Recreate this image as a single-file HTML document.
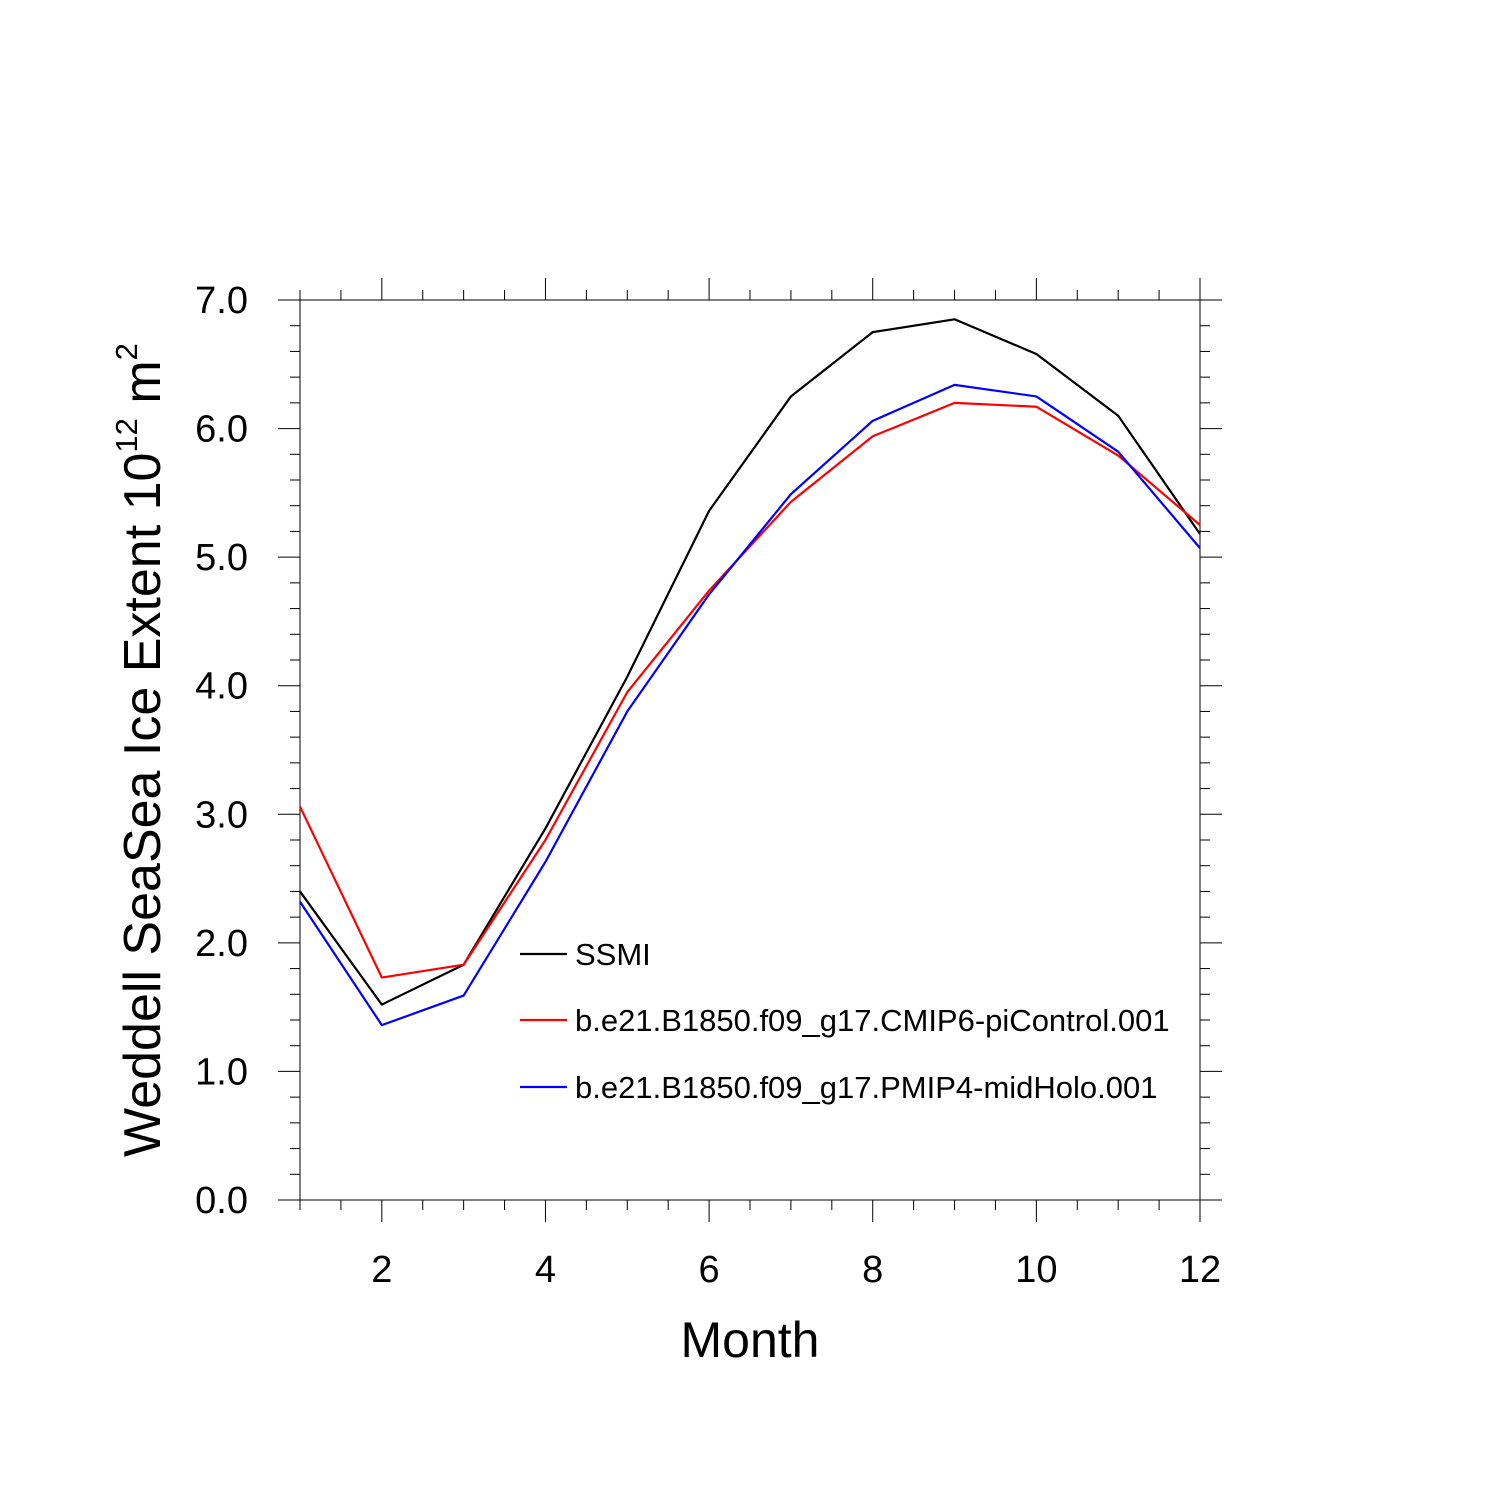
<!DOCTYPE html>
<html><head><meta charset="utf-8"><style>
html,body{margin:0;padding:0;background:#fff;}
svg{display:block;font-family:"Liberation Sans",Arial,sans-serif;}
</style></head><body>
<svg id="chart" width="1500" height="1500" viewBox="0 0 1500 1500" xmlns="http://www.w3.org/2000/svg">
<rect width="1500" height="1500" fill="#fff"/>
<g id="axes"></g>
<g id="series"></g>
<text x="750" y="1357" font-size="50" text-anchor="middle">Month</text>
<text transform="translate(160,750) rotate(-90)" font-size="52" text-anchor="middle">Weddell SeaSea Ice Extent 10<tspan font-size="31" dy="-23">12</tspan><tspan dy="23"> m</tspan><tspan font-size="31" dy="-23">2</tspan></text>
<g id="legend"></g>
</svg>
<script>
const months=[1,2,3,4,5,6,7,8,9,10,11,12];
const ssmi=[2.40,1.52,1.83,2.89,4.07,5.36,6.25,6.75,6.85,6.58,6.10,5.18];
const piControl=[3.06,1.73,1.83,2.80,3.95,4.74,5.43,5.94,6.20,6.17,5.79,5.25];
const midHolo=[2.32,1.36,1.59,2.63,3.80,4.71,5.49,6.06,6.34,6.25,5.82,5.07];
const seriesNames=["SSMI","b.e21.B1850.f09_g17.CMIP6-piControl.001","b.e21.B1850.f09_g17.PMIP4-midHolo.001"];
const yTicks=["0.0","1.0","2.0","3.0","4.0","5.0","6.0","7.0"];
const xTicks=[2,4,6,8,10,12];

const L=300,R=1200,T=300,B=1200;
const xs=m=>L+(m-1)/11*(R-L);
const ys=v=>B-v/7*(B-T);
const NS="http://www.w3.org/2000/svg";
function mk(tag,attrs,parent){const e=document.createElementNS(NS,tag);for(const k in attrs)e.setAttribute(k,attrs[k]);parent.appendChild(e);return e;}
const ax=document.getElementById('axes');
const frame=mk('rect',{x:L,y:T,width:R-L,height:B-T,fill:'none',stroke:'#000','stroke-width':1},ax);


for(let i=0;i<=35;i++){const v=i*0.2,y=ys(v),maj=i%5===0,len=maj?22:10;
 const t1=mk('line',{x1:L-len,x2:L,y1:y,y2:y,stroke:'#000','stroke-width':1},ax);
 
 
 const t2=mk('line',{x1:R,x2:R+len,y1:y,y2:y,stroke:'#000','stroke-width':1},ax);
 
 }
yTicks.forEach((s,i)=>{const t=mk('text',{x:248,y:ys(i)+13,'font-size':38,'text-anchor':'end'},ax);t.textContent=s;
 
 });
for(let m=1;m<=12;m+=0.5){const x=xs(m),maj=(m%2===0),len=maj?22:10;
 const t1=mk('line',{x1:x,x2:x,y1:B,y2:B+len,stroke:'#000','stroke-width':1},ax);
 
 
 const t2=mk('line',{x1:x,x2:x,y1:T-len,y2:T,stroke:'#000','stroke-width':1},ax);
 
 }
xTicks.forEach(m=>{const t=mk('text',{x:xs(m),y:1282,'font-size':38,'text-anchor':'middle'},ax);t.textContent=m;
 
 });
const sg=document.getElementById('series');
const all=[ssmi,piControl,midHolo],cols=['#000','#f00','#00f'],names=['ssmi-line','picontrol-line','midholo-line'];
all.forEach((d,i)=>{const p=mk('polyline',{points:d.map((v,j)=>xs(months[j])+','+ys(v)).join(' '),fill:'none',stroke:cols[i],'stroke-width':2.2,'stroke-linejoin':'round'},sg);
 
 });
const lg=document.getElementById('legend');
const ly=[954,1020,1087];
seriesNames.forEach((n,i)=>{const l=mk('line',{x1:520,x2:567,y1:ly[i],y2:ly[i],stroke:cols[i],'stroke-width':2.2},lg);
 
 
 const t=mk('text',{x:575,y:ly[i]+11,'font-size':31},lg);t.textContent=n;
 
 });
</script>
</body></html>
